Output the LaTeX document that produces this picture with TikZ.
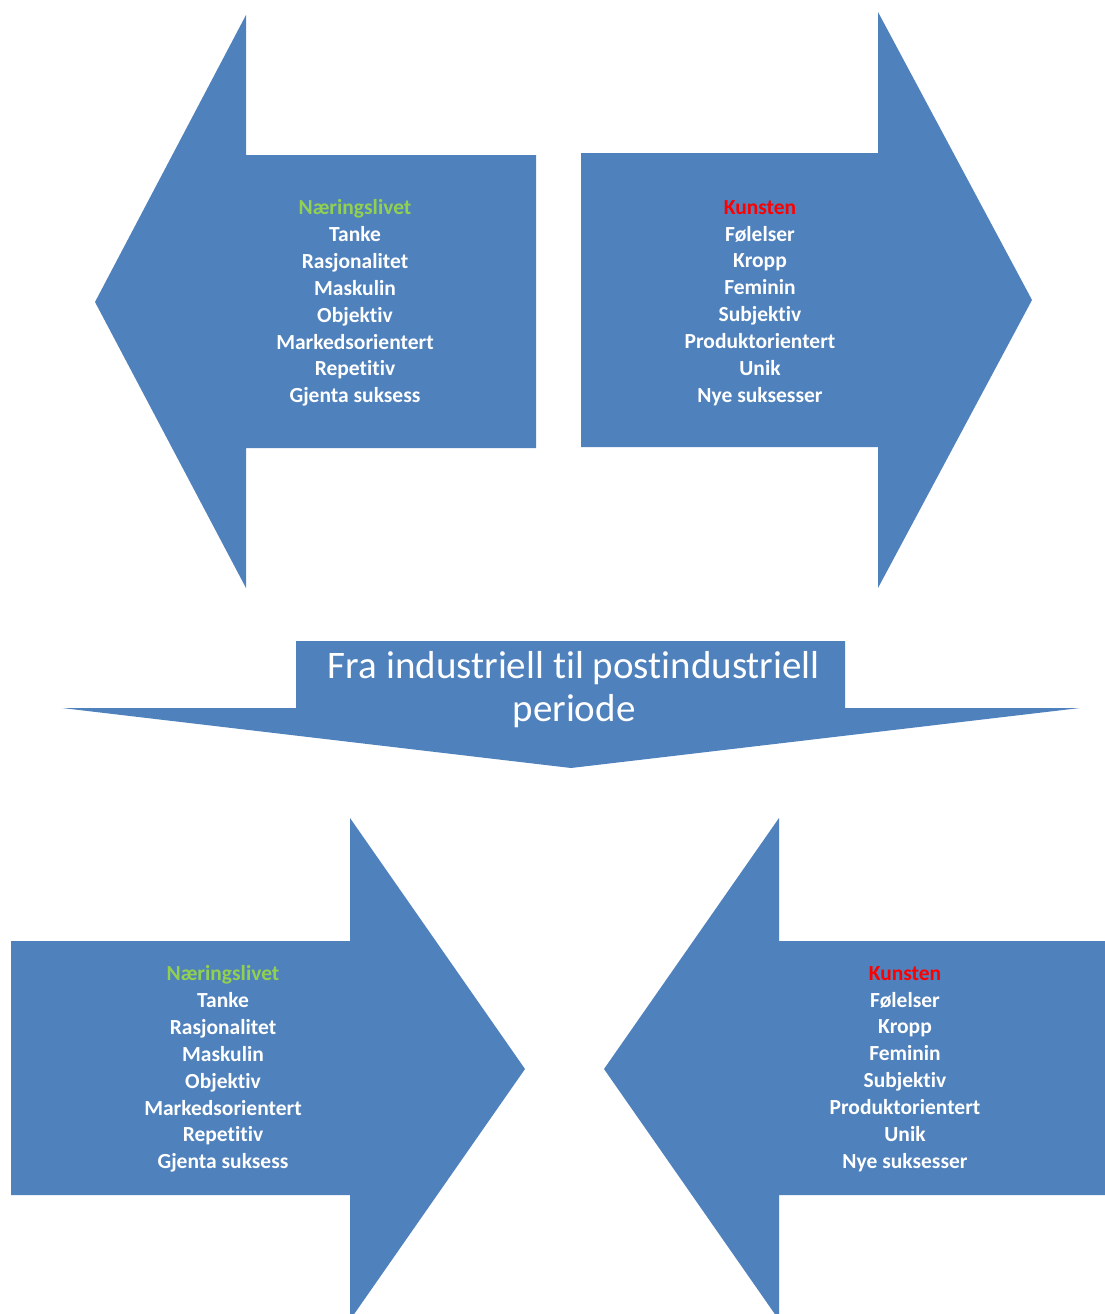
\documentclass[tikz,border=0pt]{standalone}
\usepackage{fontspec}
\setmainfont{Carlito}[Ligatures={NoCommon}]
\definecolor{arrowblue}{HTML}{4F81BD}
\definecolor{kgreen}{HTML}{92D050}
\definecolor{kred}{HTML}{FF0000}
\begin{document}
\begin{tikzpicture}[x=1pt,y=-1pt,
  shapefill/.style={fill=arrowblue},
  listtext/.style={text=white,align=center,font=\bfseries\fontsize{21.5}{26.9}\selectfont,inner sep=0pt},
  titletext/.style={text=white,align=center,font=\fontsize{39}{43}\selectfont,inner sep=0pt}]
\useasboundingbox (0,0) rectangle (1105,1314);
% top-left arrow (pointing left)
\fill[shapefill] (95,302) -- (246,15) -- (246,155) -- (536,155) -- (536,448) -- (246,448) -- (246,588) -- cycle;
% top-right arrow (pointing right)
\fill[shapefill] (1032,300) -- (878,12) -- (878,153) -- (581,153) -- (581,447) -- (878,447) -- (878,588) -- cycle;
% middle down arrow
\fill[shapefill] (296,641) -- (845,641) -- (845,708) -- (1080,708) -- (571,768) -- (62,708) -- (296,708) -- cycle;
% bottom-left arrow (pointing right)
\fill[shapefill] (11,941) -- (350,941) -- (350,818) -- (525,1069) -- (350,1320) -- (350,1195) -- (11,1195) -- cycle;
% bottom-right arrow (pointing left)
\fill[shapefill] (1105,941) -- (779,941) -- (779,818) -- (604,1069) -- (779,1320) -- (779,1195) -- (1105,1195) -- cycle;
% texts
\node[listtext] (tl) at (355,303) {\textcolor{kgreen}{Næringslivet}\\Tanke\\Rasjonalitet\\Maskulin\\Objektiv\\Markedsorientert\\Repetitiv\\Gjenta suksess};
\node[listtext] (tr) at (760,303) {\textcolor{kred}{Kunsten}\\Følelser\\Kropp\\Feminin\\Subjektiv\\Produktorientert\\Unik\\Nye suksesser};
\node[titletext] (mid) at (574,690) {Fra industriell til postindustriell\\periode};
\node[listtext] (bl) at (223,1069) {\textcolor{kgreen}{Næringslivet}\\Tanke\\Rasjonalitet\\Maskulin\\Objektiv\\Markedsorientert\\Repetitiv\\Gjenta suksess};
\node[listtext] (br) at (905,1069) {\textcolor{kred}{Kunsten}\\Følelser\\Kropp\\Feminin\\Subjektiv\\Produktorientert\\Unik\\Nye suksesser};
\end{tikzpicture}
\end{document}
